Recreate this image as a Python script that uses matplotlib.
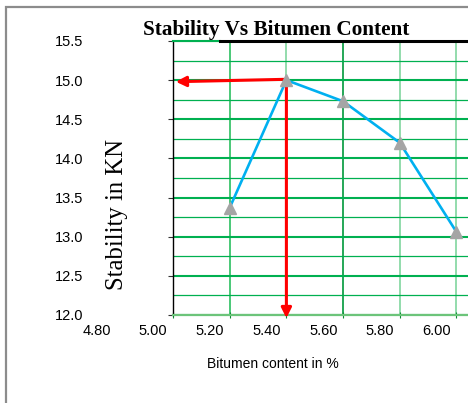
import matplotlib.pyplot as plt
import numpy as np
from matplotlib.patches import Rectangle
from matplotlib.transforms import blended_transform_factory

# Marshall test results
bitumen = [5.27, 5.47, 5.67, 5.87, 6.07]
stability = [13.37, 15.0, 14.73, 14.2, 13.06]
x_labels = [4.80, 5.00, 5.20, 5.40, 5.60, 5.80, 6.00]
y_major = [12.0, 12.5, 13.0, 13.5, 14.0, 14.5, 15.0, 15.5]

fig = plt.figure(figsize=(4.68, 4.03), dpi=100)
ax = fig.add_axes([173 / 468, 88 / 403, 295 / 468, 274 / 403])
ax.set_xlim(5.07, 6.1106)
ax.set_ylim(12.0, 15.5)

# outer chart frame
fig.add_artist(Rectangle((6 / 468, -0.1), 1.2, 1 - 7 / 403 + 0.1, transform=fig.transFigure,
                         fill=False, edgecolor='#8c8c8c', lw=1.6))

# horizontal grid
ax.set_yticks(y_major)
ax.set_yticks(np.arange(12.25, 15.5, 0.5), minor=True)
ax.grid(axis='y', which='major', color='#00b050', lw=1.5)
ax.grid(axis='y', which='minor', color='#00b050', lw=0.9)
ax.set_yticklabels(['%.1f' % v for v in y_major], fontsize=10.5, family='Liberation Sans')
ax.tick_params(axis='y', which='major', direction='out', length=3.5, color='#333333', pad=61)
ax.tick_params(axis='y', which='minor', length=0)

# vertical grid
vcols = ['#3cc46c', '#8ad9a6', '#14a04a', '#8ad9a6', '#8ad9a6']
for xv, c in zip(bitumen, vcols):
    ax.axvline(xv, color=c, lw=1.3, zorder=1)
ax.set_xticks([5.07] + bitumen)
ax.set_xticklabels([])
ax.tick_params(axis='x', direction='inout', length=4, color='#0a8a30')

trans = blended_transform_factory(ax.transData, ax.transAxes)
for v in x_labels:
    ax.text(v, -0.058, '%.2f' % v, transform=trans, ha='center', va='center',
            fontsize=10.5, family='Liberation Sans', clip_on=False)

for s in ['top', 'right']:
    ax.spines[s].set_visible(False)
ax.spines['left'].set_color('black')
ax.spines['left'].set_linewidth(1.0)
ax.spines['bottom'].set_color('#6cc47a')
ax.spines['bottom'].set_linewidth(1.6)

# top edge: green stub, then black rule under the title
ax.plot([5.07, 5.236], [15.5, 15.5], color='#00b050', lw=1.5, clip_on=False, zorder=5)
ax.plot([5.236, 6.1106], [15.5, 15.5], color='black', lw=2.2, clip_on=False, zorder=5)

# optimum read-off arrows
i = int(np.argmax(stability))
px, py = bitumen[i], stability[i]
arrow = dict(arrowstyle='-|>,head_length=0.6,head_width=0.3', color='red', lw=2.2,
             shrinkA=0, shrinkB=0)
ax.annotate('', xy=(5.08, py - 0.02), xytext=(px - 0.01, py + 0.01), arrowprops=arrow,
            annotation_clip=False, zorder=3)
ax.annotate('', xy=(px, 11.96), xytext=(px, py), arrowprops=arrow,
            annotation_clip=False, zorder=3)

ax.plot(bitumen, stability, color='#00b0f0', lw=1.9, zorder=4, clip_on=False)
ax.plot(bitumen, stability, ls='none', marker='^', ms=9, color='#a5a5a5', zorder=6,
        clip_on=False)

fig.text(276.5 / 468, 1 - 30 / 403, 'Stability Vs Bitumen Content', ha='center', va='center',
         fontsize=15.3, fontweight='bold', family='Liberation Serif')
fig.text(117 / 468, 1 - 215 / 403, 'Stability in KN', rotation=90, ha='center', va='center',
         fontsize=17.8, family='Liberation Serif')
fig.text(272.5 / 468, 1 - 364 / 403, 'Bitumen content in %', ha='center', va='center',
         fontsize=10, family='Liberation Sans')

fig.savefig('out.png', dpi=100)
